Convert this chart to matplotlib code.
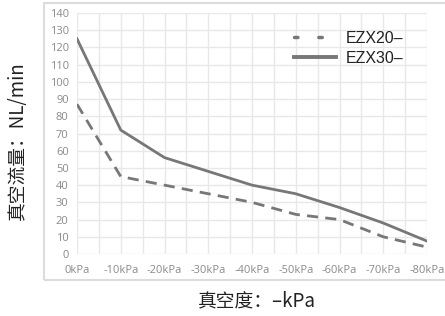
import matplotlib
matplotlib.use("Agg")
import matplotlib.pyplot as plt
from matplotlib.patches import Rectangle
from matplotlib.lines import Line2D

categories = ["0kPa", "-10kPa", "-20kPa", "-30kPa", "-40kPa", "-50kPa", "-60kPa", "-70kPa", "-80kPa"]
ezx20 = [87, 45, 40, 35, 30, 23, 20, 10, 4]
ezx30 = [125, 72, 56, 48, 40, 35, 27, 18, 7.5]
yticks = list(range(0, 141, 10))

W, H = 445, 316
fig = plt.figure(figsize=(W / 100, H / 100), dpi=100)
fig.patch.set_facecolor("white")

# outer frame
fig.patches.append(Rectangle((44 / W, 1 - 280 / H), 1.2, (280 - 3) / H, transform=fig.transFigure,
                             fill=False, edgecolor="#dcdcdc", linewidth=1.5, zorder=0))

ax = fig.add_axes([77 / W, 1 - 254 / H, (427 - 77) / W, (254 - 13) / H])
x = list(range(len(categories)))
line_color = "#777777"
ax.plot(x, ezx20, color=line_color, lw=2, linestyle=(0, (4, 2.6)), zorder=3)
ax.plot(x, ezx30, color=line_color, lw=2, zorder=3)

ax.set_xlim(0, len(categories) - 1)
ax.set_ylim(0, 140)
ax.set_yticks(yticks)
ax.set_xticks(x)
ax.set_xticklabels(categories)
ax.set_xticks([i + 0.5 for i in x[:-1]], minor=True)
ax.grid(True, which="both", color="#e8e8e8", lw=1)
ax.set_axisbelow(True)
for s in ax.spines.values():
    s.set_visible(False)
ax.tick_params(which="both", length=0)
ax.tick_params(axis="x", pad=8, labelsize=8, labelcolor="#8a8a8a")
ax.tick_params(axis="y", pad=6, labelsize=8, labelcolor="#8a8a8a")
for lab in ax.get_xticklabels() + ax.get_yticklabels():
    lab.set_fontfamily(["Open Sans", "DejaVu Sans"])

cjk = ["Noto Sans CJK SC", "DejaVu Sans"]
fig.text(17 / W, 1 - 141 / H, "真空流量：NL/min", rotation=90, ha="center", va="center",
         fontsize=13.5, family=cjk, weight="medium", color="#222222")
fig.text(257 / W, 1 - 301 / H, "真空度：–kPa", ha="center", va="center",
         fontsize=13.5, family=cjk, weight="medium", color="#222222")

handles = [Line2D([], [], color=line_color, lw=2.5, linestyle=(0, (1.0, 6.0)), dash_capstyle="round"),
           Line2D([], [], color=line_color, lw=2.8)]
leg = ax.legend(handles, ["EZX20–", "EZX30–"], loc="upper right", bbox_to_anchor=(0.975, 0.985),
                frameon=False, handlelength=2.6, handletextpad=0.65, labelspacing=0.3,
                prop={"family": ["Liberation Sans", "DejaVu Sans"], "size": 11.5})
for t in leg.get_texts():
    t.set_color("#222222")

fig.savefig("out.png", dpi=100, facecolor="white")
